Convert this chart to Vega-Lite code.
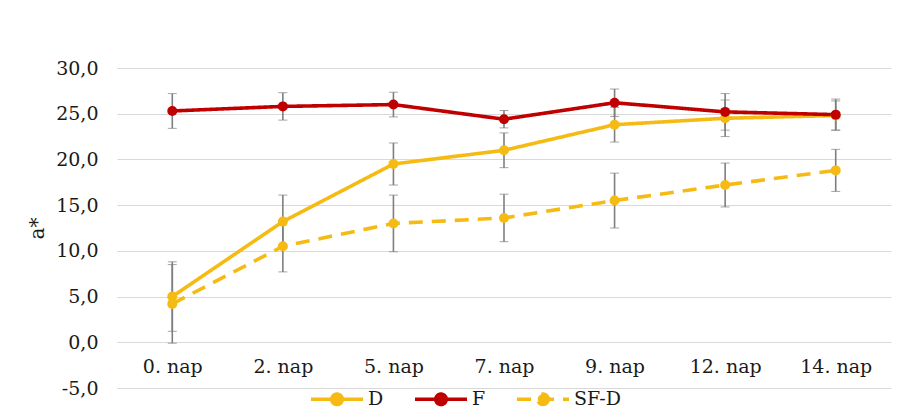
{
  "$schema": "https://vega.github.io/schema/vega-lite/v6.json",
  "width": 774,
  "height": 320,
  "autosize": {"type": "none"},
  "padding": {"left": 117, "top": 68, "right": 27, "bottom": 27},
  "background": "#ffffff",
  "data": {
    "values": [
      {"day": "0. nap", "series": "D", "value": 5.0, "err": 3.8},
      {"day": "2. nap", "series": "D", "value": 13.2, "err": 2.9},
      {"day": "5. nap", "series": "D", "value": 19.5, "err": 2.3},
      {"day": "7. nap", "series": "D", "value": 21.0, "err": 1.9},
      {"day": "9. nap", "series": "D", "value": 23.8, "err": 1.9},
      {"day": "12. nap", "series": "D", "value": 24.5, "err": 2.0},
      {"day": "14. nap", "series": "D", "value": 24.8, "err": 1.6},
      {"day": "0. nap", "series": "F", "value": 25.3, "err": 1.9},
      {"day": "2. nap", "series": "F", "value": 25.8, "err": 1.5},
      {"day": "5. nap", "series": "F", "value": 26.0, "err": 1.35},
      {"day": "7. nap", "series": "F", "value": 24.4, "err": 0.95},
      {"day": "9. nap", "series": "F", "value": 26.2, "err": 1.5},
      {"day": "12. nap", "series": "F", "value": 25.2, "err": 2.0},
      {"day": "14. nap", "series": "F", "value": 24.9, "err": 1.7},
      {"day": "0. nap", "series": "SF-D", "value": 4.2, "err": 4.3},
      {"day": "2. nap", "series": "SF-D", "value": 10.5, "err": 2.8},
      {"day": "5. nap", "series": "SF-D", "value": 13.0, "err": 3.1},
      {"day": "7. nap", "series": "SF-D", "value": 13.6, "err": 2.6},
      {"day": "9. nap", "series": "SF-D", "value": 15.5, "err": 3.0},
      {"day": "12. nap", "series": "SF-D", "value": 17.2, "err": 2.4},
      {"day": "14. nap", "series": "SF-D", "value": 18.8, "err": 2.3}
    ]
  },
  "encoding": {
    "x": {
      "field": "day",
      "type": "ordinal",
      "sort": ["0. nap", "2. nap", "5. nap", "7. nap", "9. nap", "12. nap", "14. nap"],
      "scale": {"type": "point", "padding": 0.5},
      "axis": {
        "title": null,
        "domain": false,
        "ticks": false,
        "grid": false,
        "offset": -45.6,
        "labelAngle": 0,
        "labelPadding": 15,
        "labelFontSize": 19,
        "labelColor": "#1a1a1a"
      }
    },
    "y": {
      "field": "value",
      "type": "quantitative",
      "scale": {"domain": [-5, 30], "nice": false, "zero": false},
      "axis": {
        "title": "a*",
        "titleFontSize": 20,
        "titleFontWeight": "normal",
        "titleColor": "#1a1a1a",
        "titlePadding": 8,
        "values": [-5, 0, 5, 10, 15, 20, 25, 30],
        "labelExpr": "replace(replace(format(datum.value, '.1f'), '.', ','), '\u2212', '-')",
        "labelFontSize": 19,
        "labelColor": "#1a1a1a",
        "labelPadding": 19,
        "domain": false,
        "ticks": false,
        "grid": true,
        "gridColor": "#d9d9d9",
        "gridWidth": 1.2
      }
    }
  },
  "layer": [
    {
      "mark": {
        "type": "errorbar",
        "ticks": {"size": 9, "color": "#7f7f7f", "strokeWidth": 1.6},
        "rule": {"color": "#7f7f7f", "strokeWidth": 1.6}
      },
      "encoding": {
        "yError": {"field": "err"}
      }
    },
    {
      "mark": {
        "type": "line",
        "strokeWidth": 3.6,
        "point": {"filled": true, "size": 100, "opacity": 1}
      },
      "encoding": {
        "color": {
          "field": "series",
          "type": "nominal",
          "scale": {"domain": ["D", "F", "SF-D"], "range": ["#F5BB14", "#C00000", "#F5BB14"]},
          "legend": {
            "title": null,
            "orient": "none",
            "direction": "horizontal",
            "legendX": 192,
            "legendY": 303,
            "symbolType": "M-1,0H1M0.2,0A0.2,0.2,0,1,1,-0.2,0A0.2,0.2,0,1,1,0.2,0",
            "symbolSize": 2704,
            "symbolStrokeWidth": 3.6,
            "labelFontSize": 19,
            "labelColor": "#1a1a1a",
            "labelOffset": 3,
            "columnPadding": 23,
            "encode": {
              "symbols": {"update": {"fill": {"scale": "color", "field": "value"}, "opacity": {"value": 1}}}
            }
          }
        },
        "strokeDash": {
          "field": "series",
          "type": "nominal",
          "scale": {"domain": ["D", "F", "SF-D"], "range": [[1, 0], [1, 0], [14, 9]]},
          "legend": {
            "title": null,
            "orient": "none",
            "direction": "horizontal",
            "legendX": 192,
            "legendY": 303,
            "symbolType": "M-1,0H1M0.2,0A0.2,0.2,0,1,1,-0.2,0A0.2,0.2,0,1,1,0.2,0",
            "symbolSize": 2704,
            "symbolStrokeWidth": 3.6,
            "labelFontSize": 19,
            "labelColor": "#1a1a1a",
            "labelOffset": 3,
            "columnPadding": 23
          }
        }
      }
    }
  ],
  "config": {
    "view": {"stroke": null},
    "font": "DejaVu Serif",
    "axis": {"labelFont": "DejaVu Serif", "titleFont": "DejaVu Serif"},
    "legend": {"labelFont": "DejaVu Serif"}
  }
}
